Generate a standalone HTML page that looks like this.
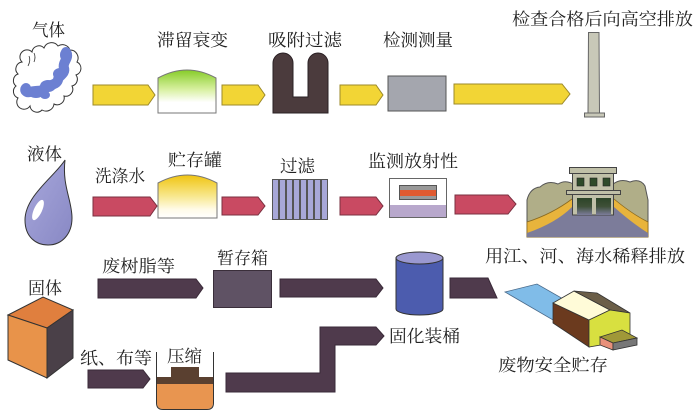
<!DOCTYPE html>
<html><head><meta charset="utf-8"><style>
html,body{margin:0;padding:0;background:#fff;}
svg{display:block;}
text{font-family:"Liberation Serif","Noto Serif CJK SC","Noto Sans CJK SC",serif;font-size:17px;fill:#222;}
</style></head><body>
<svg width="700" height="412" viewBox="0 0 700 412" xmlns="http://www.w3.org/2000/svg">
<defs>
<linearGradient id="gGreen" x1="0" y1="0" x2="0" y2="1">
<stop offset="0" stop-color="#86cc28"/><stop offset="0.45" stop-color="#d8f0a0"/><stop offset="0.75" stop-color="#ffffff"/><stop offset="1" stop-color="#ffffff"/>
</linearGradient>
<linearGradient id="gYel" x1="0" y1="0" x2="0" y2="1">
<stop offset="0" stop-color="#f0c410"/><stop offset="0.5" stop-color="#f8e890"/><stop offset="0.8" stop-color="#fffbe8"/><stop offset="1" stop-color="#ffffff"/>
</linearGradient>
<linearGradient id="gDrop" x1="0" y1="0" x2="1" y2="1">
<stop offset="0" stop-color="#a8a8dc"/><stop offset="1" stop-color="#8888c4"/>
</linearGradient>
<linearGradient id="gDoor" x1="0" y1="0" x2="0" y2="1">
<stop offset="0" stop-color="#2c4428"/><stop offset="0.5" stop-color="#3e5038"/><stop offset="1" stop-color="#7c7c9a"/>
</linearGradient>
</defs>

<!-- ===== Row 1: gas ===== -->
<text x="32" y="36" textLength="33" lengthAdjust="spacingAndGlyphs">气体</text>
<!-- cloud -->
<path d="M22,62 A7,7 0 0 1 32,52 A7,7 0 0 1 44,48 A8,8 0 0 1 58,46 A8,8 0 0 1 70,50 A8,8 0 0 1 77,62 A7,7 0 0 1 76,75 A7,7 0 0 1 72,86 A7,7 0 0 1 64,96 A7,7 0 0 1 54,104 A8,8 0 0 1 42,110 A7,7 0 0 1 30,106 A7,7 0 0 1 18,98 A7,7 0 0 1 16,86 A7,7 0 0 1 18,74 A7,7 0 0 1 22,62 Z" fill="#fff" stroke="#333" stroke-width="1"/>
<path d="M28,66 q3,-6 1,-10 M34,62 q2,-5 0,-9" fill="none" stroke="#333" stroke-width="0.8"/>
<path d="M66,52 C70,58 62,62 64,68 C66,74 58,76 58,80 C56,86 48,84 46,88 C42,92 36,90 30,92 C26,93 24,90 26,88" fill="none" stroke="#6c80d2" stroke-width="10" stroke-linecap="round" stroke-linejoin="round"/>
<g fill="#6c80d2">
<ellipse cx="66" cy="55" rx="6" ry="7"/>
<ellipse cx="60" cy="74" rx="7" ry="6"/>
<ellipse cx="48" cy="86" rx="8" ry="6"/>
<ellipse cx="36" cy="93" rx="8" ry="5"/>
<ellipse cx="45" cy="95" rx="5" ry="4"/>
</g>
<!-- arrows yellow -->
<g fill="#f2d535" stroke="#9c8a2a" stroke-width="1">
<polygon points="93,85 148,85 155,95 148,105 93,105"/>
<polygon points="222,85 258,85 265,95 258,105 222,105"/>
<polygon points="340,85 376,85 383,95 376,105 340,105"/>
<polygon points="454,84 562,84 570,94 562,104 454,104"/>
</g>
<text x="157" y="46" textLength="71" lengthAdjust="spacingAndGlyphs">滞留衰变</text>
<path d="M158,113 L158,78 Q187,62 216,78 L216,113 Z" fill="url(#gGreen)" stroke="#777" stroke-width="1"/>
<text x="268" y="46" textLength="74" lengthAdjust="spacingAndGlyphs">吸附过滤</text>
<path d="M273,113 L273,63 A10,10 0 0 1 293,63 L293,97 L308,97 L308,63 A10,10 0 0 1 328,63 L328,113 Z" fill="#4b3b3d" stroke="#2a2024" stroke-width="1"/>
<text x="383" y="46" textLength="70" lengthAdjust="spacingAndGlyphs">检测测量</text>
<rect x="388" y="76" width="58" height="35" fill="#a4a6ae" stroke="#555" stroke-width="1"/>
<text x="512" y="25" textLength="181" lengthAdjust="spacingAndGlyphs">检查合格后向高空排放</text>
<polygon points="588.5,32.5 599,32.5 599.5,113 588,113" fill="#c8c8b8" stroke="#666" stroke-width="1"/>
<rect x="584.5" y="113" width="20" height="4" fill="#c8c8b8" stroke="#666" stroke-width="1"/>

<!-- ===== Row 2: liquid ===== -->
<text x="27" y="160" textLength="35" lengthAdjust="spacingAndGlyphs">液体</text>
<path d="M65,160 C55,176 25,196 25,220 C25,237 36,245 48,245 C62,245 72,234 72,218 C72,200 62,186 65,160 Z" fill="url(#gDrop)" stroke="#333" stroke-width="1"/>
<ellipse cx="38" cy="210" rx="4" ry="11" transform="rotate(25 38 210)" fill="#fff"/>
<g fill="#c94a62" stroke="#7a3040" stroke-width="1">
<polygon points="93,197 150,197 157,206 150,216 93,216"/>
<polygon points="222,197 258,197 265,206 258,215 222,215"/>
<polygon points="340,197 376,197 383,206 376,215 340,215"/>
<polygon points="455,195 508,195 516,204 508,214 455,214"/>
</g>
<text x="95" y="182" textLength="50" lengthAdjust="spacingAndGlyphs">洗涤水</text>
<text x="168" y="166" textLength="54" lengthAdjust="spacingAndGlyphs">贮存罐</text>
<path d="M158,218 L158,183 Q187.5,167 217,183 L217,218 Z" fill="url(#gYel)" stroke="#777" stroke-width="1"/>
<text x="280" y="172" textLength="35" lengthAdjust="spacingAndGlyphs">过滤</text>
<g fill="#a8a8d8" stroke="#555" stroke-width="1">
<rect x="272.5" y="179.5" width="6" height="40"/>
<rect x="279.5" y="179.5" width="6" height="40"/>
<rect x="286.5" y="179.5" width="6" height="40"/>
<rect x="293.5" y="179.5" width="6" height="40"/>
<rect x="300.5" y="179.5" width="6" height="40"/>
<rect x="307.5" y="179.5" width="6" height="40"/>
<rect x="314.5" y="179.5" width="6" height="40"/>
<rect x="321.5" y="179.5" width="6" height="40"/>
</g>
<text x="368" y="167" textLength="90" lengthAdjust="spacingAndGlyphs">监测放射性</text>
<rect x="389.5" y="178.5" width="57" height="39" fill="#fff" stroke="#666" stroke-width="1"/>
<rect x="390" y="205" width="56" height="12" fill="#b8a8cc"/>
<rect x="399.5" y="185.5" width="37" height="14" fill="#999" stroke="#555" stroke-width="1"/>
<rect x="400" y="190" width="36" height="6" fill="#e05a30"/>
<!-- dam -->
<path d="M527,237 L527,200 Q530,188 540,187 Q548,180 558,184 Q566,179 575,185 L612,185 Q620,178 630,182 Q640,178 645,186 L648,200 L648,237 Z" fill="#b0ae88" stroke="#555" stroke-width="1"/>
<path d="M527,222 Q552,214 572,199 L614,199 Q632,214 648,222 L648,237 L527,237 Z" fill="#e8b43c" stroke="#8a6a20" stroke-width="0.8"/>
<path d="M527,233 Q556,223 572,207 L614,207 Q632,223 648,233 L648,237 L527,237 Z" fill="#7c7c9a"/>
<rect x="572.5" y="173" width="41" height="42" fill="#c0c0a8" stroke="#444" stroke-width="1"/>
<rect x="569.5" y="167.5" width="47" height="6" fill="#c0c0a8" stroke="#444" stroke-width="1"/>
<rect x="577" y="178" width="7" height="8" fill="#2e4a2a" stroke="#222" stroke-width="0.6"/>
<rect x="590" y="178" width="7" height="8" fill="#2e4a2a" stroke="#222" stroke-width="0.6"/>
<rect x="603" y="178" width="7" height="8" fill="#2e4a2a" stroke="#222" stroke-width="0.6"/>
<rect x="566.5" y="190.5" width="54" height="4" fill="#c0c0a8" stroke="#444" stroke-width="1"/>
<rect x="577" y="198" width="15" height="17" fill="url(#gDoor)"/>
<rect x="596" y="198" width="15" height="17" fill="url(#gDoor)"/>
<text x="485" y="262" textLength="200" lengthAdjust="spacingAndGlyphs">用江、河、海水稀释排放</text>

<!-- ===== Row 3: solid ===== -->
<text x="28" y="294" textLength="34" lengthAdjust="spacingAndGlyphs">固体</text>
<polygon points="8,315 43,297 73,310 47,328" fill="#e07f3e" stroke="#333" stroke-width="1"/>
<polygon points="8,315 47,328 47,378 8,360" fill="#e8934a" stroke="#333" stroke-width="1"/>
<polygon points="47,328 73,310 73,358 47,378" fill="#4a4048" stroke="#333" stroke-width="1"/>
<g fill="#4f3a4c" stroke="#3a2a38" stroke-width="1">
<polygon points="98,279 196,279 203,288 196,298 98,298"/>
<polygon points="280,279 376,279 383,288 376,297 280,297"/>
<polygon points="450,278 488,278 497,298 450,298"/>
<polygon points="88,370 143,370 150,379 143,388 88,388"/>
<polygon points="226,373 320,373 320,327 376,327 384,336 376,345 335,345 335,392 226,392"/>
</g>
<text x="102" y="272" textLength="73" lengthAdjust="spacingAndGlyphs">废树脂等</text>
<text x="217" y="264" textLength="51" lengthAdjust="spacingAndGlyphs">暂存箱</text>
<rect x="213.5" y="270.5" width="58" height="37" fill="#5f5264" stroke="#3a2e3a" stroke-width="1"/>
<!-- cylinder -->
<path d="M396,258 L396,309 A23.5,6 0 0 0 443,309 L443,258 Z" fill="#4c5cae" stroke="#333" stroke-width="1"/>
<ellipse cx="419.5" cy="258" rx="23.5" ry="6" fill="#9a98d0" stroke="#333" stroke-width="1"/>
<text x="389" y="342" textLength="71" lengthAdjust="spacingAndGlyphs">固化装桶</text>
<!-- warehouse -->
<polygon points="505,292 537,284 565,300 553,320" fill="#80bce8" stroke="#4a6a8a" stroke-width="0.8"/>
<polygon points="553,303 589,320 589,347 553,323" fill="#6b3a1e" stroke="#333" stroke-width="0.8"/>
<polygon points="553,303 574,291 610,310 589,320" fill="#fffbd8" stroke="#333" stroke-width="0.8"/>
<polygon points="574,291 597,293 630,313 610,310" fill="#6b5e48" stroke="#333" stroke-width="0.8"/>
<polygon points="589,320 610,310 630,313 630,340 589,347" fill="#d8e040" stroke="#333" stroke-width="0.8"/>
<polygon points="600,337 622,330 637,338 613,343" fill="#a09838" stroke="#333" stroke-width="0.8"/>
<polygon points="600,337 613,343 613,350 600,345" fill="#e8907a" stroke="#333" stroke-width="0.8"/>
<polygon points="613,343 637,338 637,345 613,350" fill="#777" stroke="#333" stroke-width="0.8"/>
<text x="498" y="371" textLength="110" lengthAdjust="spacingAndGlyphs">废物安全贮存</text>
<!-- compression -->
<text x="80" y="364" textLength="72" lengthAdjust="spacingAndGlyphs">纸、布等</text>
<text x="167" y="362" textLength="35" lengthAdjust="spacingAndGlyphs">压缩</text>
<path d="M157,384 L213,384 L213,403 Q213,409 207,409 L163,409 Q157,409 157,403 Z" fill="#e89550"/>
<rect x="157" y="377" width="56" height="7" fill="#5a4030"/>
<rect x="171" y="367" width="28" height="10" fill="#5a4030"/>
<path d="M156.5,352 L156.5,403 Q156.5,409.5 163,409.5 L207,409.5 Q213.5,409.5 213.5,403 L213.5,352" fill="none" stroke="#333" stroke-width="1"/>
</svg>
</body></html>
